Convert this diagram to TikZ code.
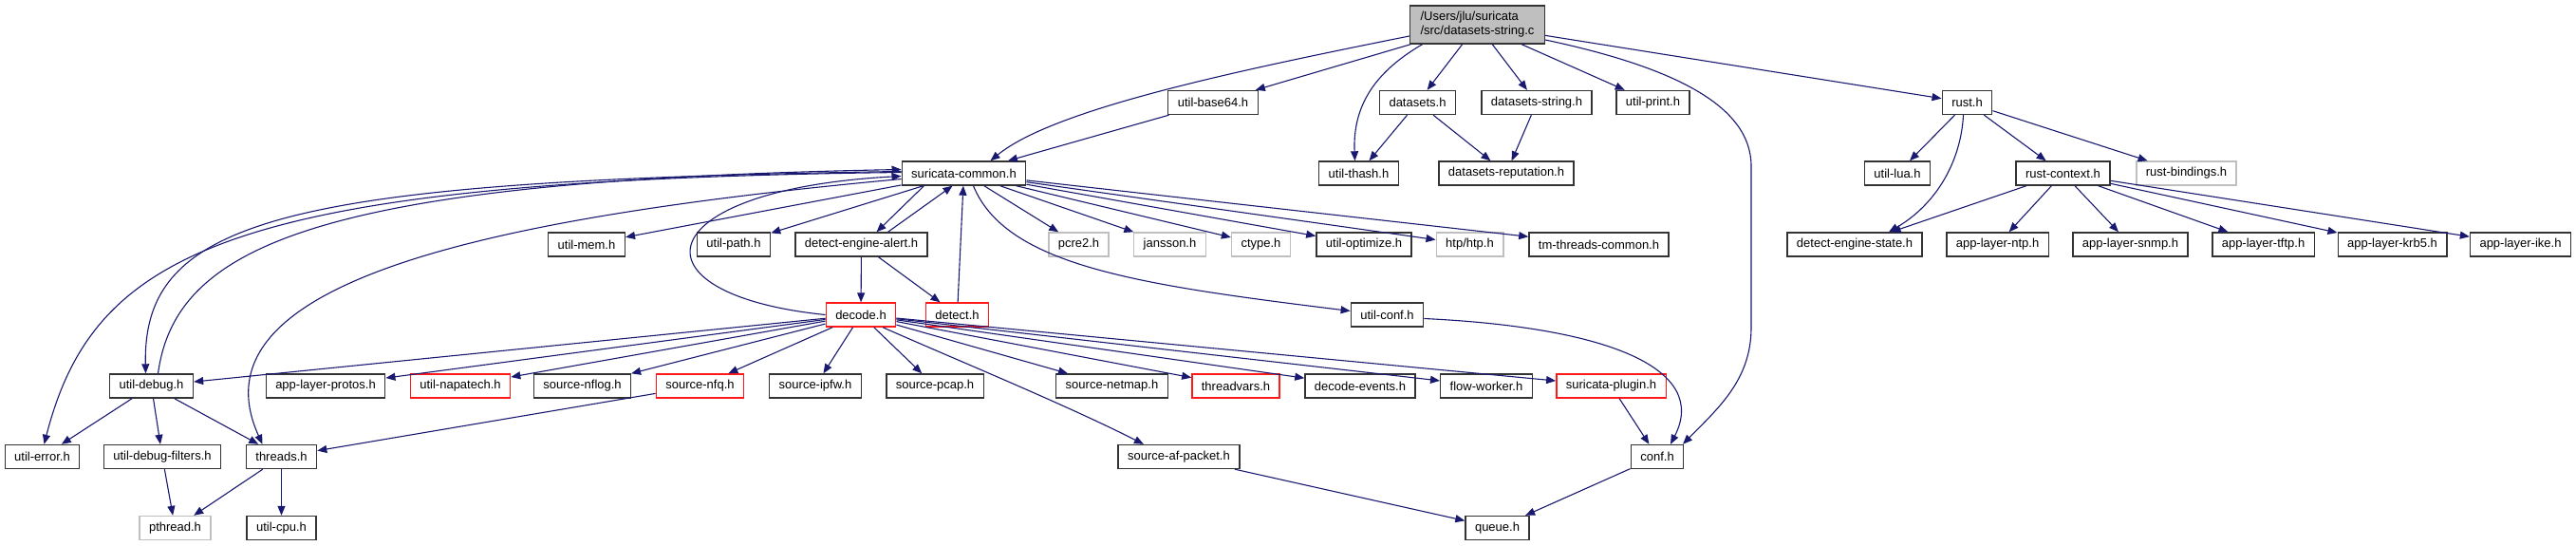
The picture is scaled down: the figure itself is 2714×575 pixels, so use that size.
\documentclass[tikz,border=0pt]{standalone}
\usepackage{fontspec}
\setmainfont{Liberation Sans}
\usetikzlibrary{arrows.meta}
\definecolor{edgeblue}{HTML}{191970}
\tikzset{
  file/.style={draw=black!80,fill=white,line width=1.4pt,inner xsep=10pt,inner ysep=0pt,minimum height=25pt,font=\fontsize{13}{15}\selectfont},
  nofile/.style={file,draw=black!25},
  trunc/.style={file,draw=red!90},
  dep/.style={-{Triangle[length=10pt,width=8pt]},draw=edgeblue,fill=none,line width=1.1pt},
}

\begin{document}
\begin{tikzpicture}[x=1pt,y=-1pt]
\useasboundingbox (0,0) rectangle (2714,575);
% row 1
\node[file,fill=black!25,align=left,minimum height=40pt,inner xsep=11pt] (root) at (1556.5,26) {/Users/jlu/suricata\\/src/datasets-string.c};
% row 2
\node[file] (b64) at (1278,108) {util-base64.h};
\node[file] (dsets) at (1493.5,108) {datasets.h};
\node[file] (dstr) at (1619,108) {datasets-string.h};
\node[file] (uprint) at (1741.5,108) {util-print.h};
\node[file] (rust) at (2072.5,108) {rust.h};
% row 3
\node[file] (sc) at (1015.5,182.5) {suricata-common.h};
\node[file] (thash) at (1431.5,182.5) {util-thash.h};
\node[file] (drep) at (1587,182.5) {datasets-reputation.h};
\node[file] (ulua) at (1999,182.5) {util-lua.h};
\node[file] (rctx) at (2173.5,182.5) {rust-context.h};
\node[nofile] (rbind) at (2303.5,182.5) {rust-bindings.h};
% row 4
\node[file] (umem) at (618,257.5) {util-mem.h};
\node[file] (upath) at (773,257.5) {util-path.h};
\node[file] (dea) at (907.5,257.5) {detect-engine-alert.h};
\node[nofile] (pcre) at (1136.5,257.5) {pcre2.h};
\node[nofile] (jans) at (1232.5,257.5) {jansson.h};
\node[nofile] (ctype) at (1328.5,257.5) {ctype.h};
\node[file] (uopt) at (1437,257.5) {util-optimize.h};
\node[nofile] (htp) at (1548.5,257.5) {htp/htp.h};
\node[file] (tmtc) at (1684.5,257.5) {tm-threads-common.h};
\node[file] (des) at (1954,257.5) {detect-engine-state.h};
\node[file] (ntp) at (2104.5,257.5) {app-layer-ntp.h};
\node[file] (snmp) at (2244.5,257.5) {app-layer-snmp.h};
\node[file] (tftp) at (2384.5,257.5) {app-layer-tftp.h};
\node[file] (krb) at (2520.5,257.5) {app-layer-krb5.h};
\node[file] (ike) at (2655.5,257.5) {app-layer-ike.h};
% row 5
\node[trunc] (dec) at (907,331.5) {decode.h};
\node[trunc] (det) at (1008.5,331.5) {detect.h};
\node[file] (uconf) at (1461.5,331.5) {util-conf.h};
% row 6
\node[file] (udbg) at (159.5,406.5) {util-debug.h};
\node[file] (alp) at (343,406.5) {app-layer-protos.h};
\node[trunc] (unapa) at (485,406.5) {util-napatech.h};
\node[file] (nflog) at (613.5,406.5) {source-nflog.h};
\node[trunc] (nfq) at (737.5,406.5) {source-nfq.h};
\node[file] (ipfw) at (859,406.5) {source-ipfw.h};
\node[file] (pcap) at (985,406.5) {source-pcap.h};
\node[file] (netmap) at (1171.5,406.5) {source-netmap.h};
\node[trunc] (tv) at (1302,406.5) {threadvars.h};
\node[file] (devt) at (1433,406.5) {decode-events.h};
\node[file] (fw) at (1566,406.5) {flow-worker.h};
\node[trunc] (plug) at (1697.5,406.5) {suricata-plugin.h};
% row 7
\node[file] (uerr) at (44.5,481) {util-error.h};
\node[file] (udf) at (171,481) {util-debug-filters.h};
\node[file] (thr) at (296.5,481) {threads.h};
\node[file] (afp) at (1242,481) {source-af-packet.h};
\node[file] (conf) at (1746,481) {conf.h};
% row 8
\node[nofile] (pth) at (184.5,556) {pthread.h};
\node[file] (ucpu) at (296.5,556) {util-cpu.h};
\node[file] (queue) at (1577.5,556) {queue.h};

% straight includes
\foreach \t in {b64,dsets,dstr,uprint,rust} \draw[dep] (root) -- (\t);
\draw[dep] (b64) -- (sc);
\draw[dep] (dsets) -- (thash);
\draw[dep] (dsets) -- (drep);
\draw[dep] (dstr) -- (drep);
\foreach \t in {umem,upath,pcre,jans,ctype,uopt,htp,tmtc} \draw[dep] (sc) -- (\t);
\foreach \t in {ulua,rctx,rbind} \draw[dep] (rust) -- (\t);
\foreach \t in {des,ntp,snmp,tftp,krb,ike} \draw[dep] (rctx) -- (\t);
\foreach \t in {udbg,alp,unapa,nflog,nfq,ipfw,pcap,netmap,tv,devt,fw,plug} \draw[dep] (dec) -- (\t);
\draw[dep] ([xshift=-42pt]sc.south) -- ([xshift=16pt]dea.north);
\draw[dep] ([xshift=28pt]dea.north) -- ([xshift=-12pt]sc.south);
\draw[dep] (det) -- (sc);
\draw[dep] (dea) -- (dec);
\draw[dep] (dea) -- (det);
\draw[dep] (udbg) -- (uerr);
\draw[dep] (udbg) -- (udf);
\draw[dep] (udbg) -- (thr);
\draw[dep] (nfq) -- (thr);
\draw[dep] (udf) -- (pth);
\draw[dep] (thr) -- (pth);
\draw[dep] (thr) -- (ucpu);
\draw[dep] (plug) -- (conf);
\draw[dep] (afp) -- (queue);
\draw[dep] (conf) -- (queue);

% curved includes
\draw[dep] ([yshift=-12pt]root.west) .. controls (1300,75) and (1110,115) .. ([xshift=28pt]sc.north);
\draw[dep] ([xshift=-58pt]root.south) .. controls (1450,75) and (1425,110) .. ([xshift=-4pt]thash.north);
\draw[dep] ([yshift=-16pt]root.east) .. controls (1760,70) and (1845,110) .. (1845,175) -- (1845,345) .. controls (1845,400) and (1810,430) .. ([xshift=27pt]conf.north);
\draw[dep] ([yshift=1pt]sc.west) .. controls (250,190) and (100,260) .. ([xshift=2pt]uerr.north);
\draw[dep] ([yshift=2pt]sc.west) .. controls (300,190) and (150,230) .. ([xshift=-6pt]udbg.north);
\draw[dep] ([xshift=7pt]udbg.north) .. controls (185,260) and (330,190) .. ([yshift=4pt]sc.west);
\draw[dep] (dec.west) .. controls (660,310) and (680,200) .. ([yshift=-3pt]sc.west);
\draw[dep] ([yshift=-6pt]sc.west) .. controls (500,230) and (200,300) .. ([xshift=-20pt]thr.north);
\draw[dep] ([xshift=10pt]sc.south) .. controls (1060,280) and (1200,300) .. ([yshift=4pt]uconf.west);
\draw[dep] ([yshift=-4pt]uconf.east) .. controls (1700,345) and (1800,390) .. ([xshift=14pt]conf.north);
\draw[dep] ([xshift=23pt]dec.south) .. controls (1010,380) and (1120,425) .. ([xshift=-37pt]afp.north);
\draw[dep] ([xshift=-4pt]rust.south) .. controls (2066,170) and (2040,215) .. ([xshift=36pt]des.north);
\end{tikzpicture}
\end{document}
